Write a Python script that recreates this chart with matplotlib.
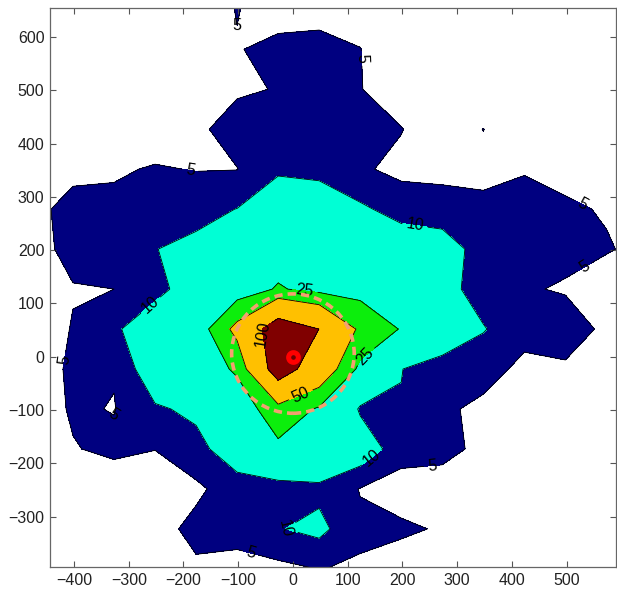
import matplotlib
matplotlib.use("Agg")
import matplotlib.pyplot as plt
import numpy as np
from matplotlib.patches import Circle

plt.rcParams["font.family"] = ["Liberation Sans", "DejaVu Sans"]

# grid nodes of the measurement field
x_nodes = [-477, -402, -327, -252, -177, -102, -27, 48, 123, 198, 273, 348, 423, 498, 573, 648]
y_nodes = [-398, -323, -248, -173, -98, -23, 52, 127, 202, 277, 352, 427, 502, 577, 652]

# field values, one row per y node (bottom to top)
z_rows = [
    [0, 0, 0, 1.1, 4.2, 3.3, 3.7, 5.1, 4.5, 2.9, 1, 0, 0, 0, 0, 0],
    [0, 0, 0, 3.1, 6.4, 6.8, 9.7, 11.5, 5.8, 5.7, 4.6, 0, 0, 0, 0, 0],
    [0, 1.2, 1.9, 2.1, 4, 7.7, 7.3, 8.6, 4.8, 3.1, 2.7, 1, 0, 0, 0, 0],
    [1.2, 4.7, 6.1, 5.1, 8.4, 13.2, 19.8, 17.4, 13.9, 6.8, 6.5, 3.8, 0, 0, 0, 0],
    [2, 5.6, 4.8, 9.3, 11.1, 10, 40, 22.2, 9.2, 9.8, 6, 3.7, 1.4, 0.5, 0, 0],
    [2.2, 5.9, 5.3, 14.3, 10, 28.6, 123.6, 73.4, 19.2, 10.1, 7.8, 7.2, 3.6, 4.5, 1.9, 0],
    [1.8, 5.3, 8.8, 15.2, 10.2, 58.7, 126.5, 99.8, 44.1, 23.5, 14.2, 10.3, 6.9, 6.7, 4.3, 0.3],
    [1.4, 4.7, 5, 7.7, 14.1, 12.4, 27.1, 18.1, 17.3, 19.6, 11.8, 7.9, 5.3, 4.7, 1.6, 0.3],
    [3, 6.6, 7.5, 9.9, 11.2, 16.3, 13.5, 18.7, 16.7, 13.6, 12.2, 8.2, 7.2, 5.8, 5.5, 3.2],
    [3.6, 6.6, 6.2, 7.7, 8.5, 10.1, 13.9, 13.2, 10.9, 8, 7.8, 6.6, 6.6, 5.9, 4.5, 0.8],
    [1.2, 3.8, 4.4, 5.4, 4.8, 4.9, 9.2, 8.7, 5.7, 3.7, 3.2, 3.2, 4.7, 3.2, 1, 0],
    [0, 0, 0.7, 2.2, 4.1, 6.9, 7.3, 7.6, 6.6, 5.2, 1.6, 5.1, 0.6, 0, 0, 0],
    [0, 0, 0, 0, 1.6, 4.4, 5.2, 6.6, 5.2, 2, 0, 0, 0, 0, 0, 0],
    [0, 0, 0, 0, 0.8, 4.7, 6.5, 6.3, 5.1, 1.1, 0, 0, 0, 0, 0, 0],
    [0, 0, 0, 0, 2.1, 5.2, 2.7, 3.6, 3.1, 0, 0, 0, 0, 0, 0, 0],
]

levels = [5, 10, 25, 50, 100]
fill_colors = ["#000080", "#00FFD5", "#0CEE0C", "#FFC000", "#800000"]

source_xy = (0, 0)
ring_center = (0, 6)
ring_radius = 112

# where the contour labels sit
label_spots = [(124, 560), (-188, 348), (223, 245), (528, 286), (533, 168),
               (22, 125), (-267, 104), (-57, 42), (-422, -5), (137, -5),
               (16, -75), (144, -189), (254, -204), (-15, -327), (-78, -370)]
small_label_spots = [(-102, 618), (-329, -112)]

Z = np.array(z_rows)

fig = plt.figure(figsize=(6.17, 5.95), dpi=100)
ax = fig.add_axes([0.081, 0.0466, 0.917, 0.9395])

ax.contourf(x_nodes, y_nodes, Z, levels=levels + [1000], colors=fill_colors)
cs = ax.contour(x_nodes, y_nodes, Z, levels=levels, colors="k", linewidths=0.6)
ax.clabel(cs, manual=label_spots, fmt="%g", fontsize=11.5, inline=True, inline_spacing=3)
ax.clabel(cs, manual=small_label_spots, fmt="%g", fontsize=11.5, inline=False)

ax.add_patch(Circle(ring_center, ring_radius, fill=False, ec="#F4A070", lw=2.6,
                    ls=(0, (2.3, 1.4)), zorder=4))
ax.plot(*source_xy, "o", ms=7, mfc="#700000", mec="#FF0000", mew=3.6, zorder=5)

ax.set_xlim(-444, 590)
ax.set_ylim(-395, 654)
ax.set_xticks(range(-400, 501, 100))
ax.set_yticks(range(-300, 601, 100))
ax.tick_params(direction="in", top=True, right=True, length=4.5, width=0.8,
               labelsize=11.5, pad=4, colors="#555555", labelcolor="#222222")
for s in ax.spines.values():
    s.set_color("#666666")
    s.set_linewidth(0.9)

fig.savefig("out.png", dpi=100)
